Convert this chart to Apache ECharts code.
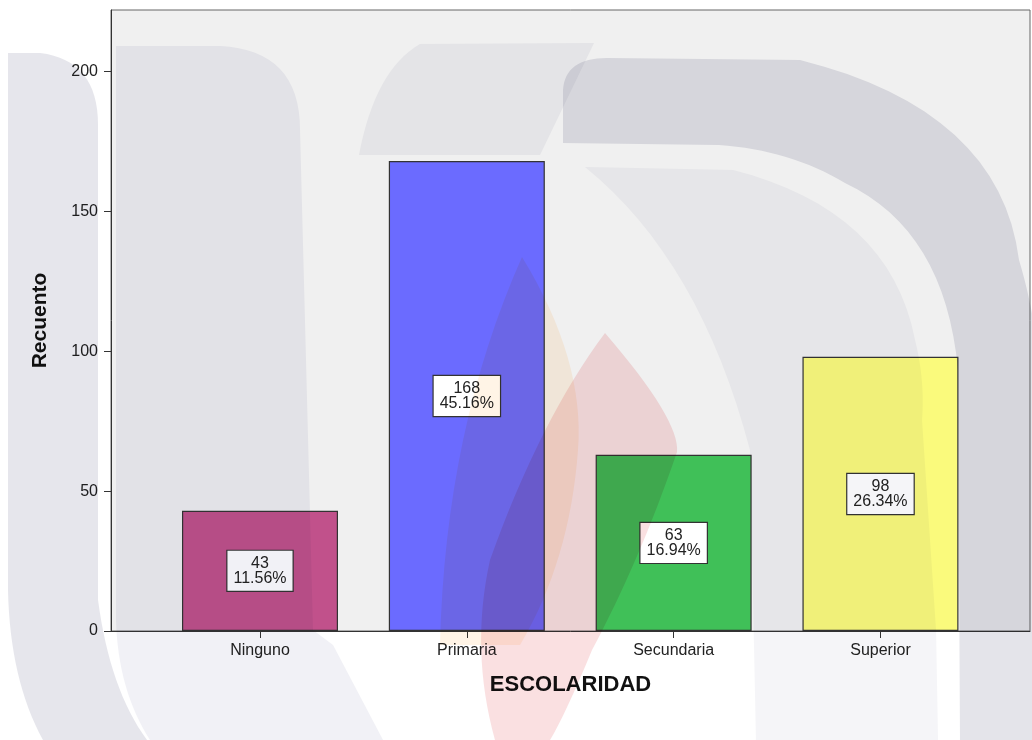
<!DOCTYPE html>
<html>
<head>
<meta charset="utf-8">
<script src="https://cdn.jsdelivr.net/npm/echarts@6/dist/echarts.min.js"></script>
<style>
html,body{margin:0;padding:0;background:#ffffff;}
#chart{width:1032px;height:740px;}
</style>
</head>
<body>
<div id="chart"></div>
<script>
// ---- data ----
const categories = ['Ninguno', 'Primaria', 'Secundaria', 'Superior'];
const counts = [43, 168, 63, 98];
const percents = ['11.56%', '45.16%', '16.94%', '26.34%'];
const barColors = ['#c1518b', '#6b6bff', '#40c058', '#fafa7c'];
const yTicks = [0, 50, 100, 150, 200];
const catPositions = [0, 1, 2, 3];

const chart = echarts.init(document.getElementById('chart'), null, {renderer: 'canvas'});
const FONT = '"Liberation Sans", Arial, sans-serif';

// plot area in pixels (layout only)
const G = {left: 111, top: 10, right: 2, bottom: 109};
const PX = G.left, PY = G.top, PW = 1032 - G.left - G.right, PH = 740 - G.top - G.bottom;

// decorative watermark outline helper: segments of [x,y] or ['Q', cx, cy, x, y]
function outline(segs) {
  const pts = [];
  let cur = null;
  segs.forEach(s => {
    if (s[0] === 'Q') {
      const [, cx, cy, x, y] = s;
      for (let t = 1; t <= 16; t++) {
        const u = t / 16;
        pts.push([(1 - u) * (1 - u) * cur[0] + 2 * (1 - u) * u * cx + u * u * x,
                  (1 - u) * (1 - u) * cur[1] + 2 * (1 - u) * u * cy + u * u * y]);
      }
      cur = [x, y];
    } else {
      pts.push([s[0], s[1]]);
      cur = s;
    }
  });
  return pts;
}
function wm(segs, fill) {
  return {type: 'polygon', z: 20, silent: true, shape: {points: outline(segs)}, style: {fill: fill, blend: 'multiply'}};
}

const seriesData = categories.map((c, i) => ({
  value: [catPositions[i], counts[i]],
  itemStyle: {color: barColors[i]}
}));

const option = {
  animation: false,
  backgroundColor: '#ffffff',
  grid: {left: G.left, top: G.top, right: G.right, bottom: G.bottom, show: false},
  graphic: {
    elements: [
      {type: 'rect', z: 0, silent: true, shape: {x: PX, y: PY, width: PW, height: PH}, style: {fill: '#f0f0f0', stroke: '#666666', lineWidth: 1}},
      // watermark (decorative)
      wm([[8, 590], [8, 53], [40, 53], ['Q', 98, 60, 98, 125], [98, 600], ['Q', 110, 690, 147, 740], [43, 740], ['Q', 10, 680, 8, 590]], 'rgb(230,230,236)'),
      wm([[116, 620], [116, 46], [220, 46], ['Q', 300, 50, 300, 130], [313, 630], [333, 645], [383, 740], [150, 740], ['Q', 118, 690, 116, 620]], 'rgb(241,241,246)'),
      wm([[359, 155], ['Q', 375, 70, 420, 44], [594, 43], [540, 155]], 'rgb(243,243,246)'),
      wm([[563, 143], [563, 90], ['Q', 565, 58, 607, 58], [800, 60], ['Q', 1000, 110, 1019, 260], ['Q', 1040, 330, 1040, 400], [1040, 740], [960, 740], [958, 370], ['Q', 945, 230, 845, 183], ['Q', 790, 150, 719, 145]], 'rgb(228,228,234)'),
      wm([[585, 167], [733, 170], ['Q', 890, 210, 915, 340], ['Q', 925, 380, 922, 420], [936, 630], [938, 740], [756, 740], [750, 450], ['Q', 700, 260, 585, 167]], 'rgb(245,245,248)'),
      wm([[522, 257], ['Q', 585, 360, 578, 450], ['Q', 570, 560, 520, 645], [440, 645], ['Q', 445, 430, 522, 257]], 'rgb(255,244,230)'),
      wm([[605, 333], ['Q', 680, 420, 677, 452], ['Q', 640, 560, 592, 650], ['Q', 565, 715, 550, 740], [495, 740], ['Q', 470, 650, 490, 560], ['Q', 540, 420, 605, 333]], 'rgb(250,224,225)')
    ]
  },
  xAxis: {
    type: 'value',
    min: -0.7204,
    max: 3.723,
    z: 5,
    splitLine: {show: false},
    axisLine: {show: true, onZero: false, lineStyle: {color: '#333333', width: 1}},
    axisTick: {show: true, length: 7, customValues: catPositions, lineStyle: {color: '#333333'}},
    axisLabel: {
      show: true, customValues: catPositions, margin: 12,
      fontFamily: FONT, fontSize: 16, color: '#222222',
      formatter: v => categories[Math.round(v)]
    },
    name: 'ESCOLARIDAD',
    nameLocation: 'middle',
    nameGap: 43,
    nameTextStyle: {fontFamily: FONT, fontSize: 22, fontWeight: 'bold', color: '#111111'}
  },
  yAxis: {
    type: 'value',
    min: 0,
    max: 222,
    interval: 50,
    z: 5,
    splitLine: {show: false},
    axisLine: {show: true, onZero: false, lineStyle: {color: '#333333', width: 1}},
    axisTick: {show: true, length: 7, customValues: yTicks, lineStyle: {color: '#333333'}},
    axisLabel: {
      show: true, customValues: yTicks, margin: 13,
      fontFamily: FONT, fontSize: 16, color: '#222222'
    },
    name: 'Recuento',
    nameLocation: 'middle',
    nameGap: 60,
    nameRotate: 90,
    nameTextStyle: {fontFamily: FONT, fontSize: 21, fontWeight: 'bold', color: '#111111'}
  },
  series: [{
    type: 'bar',
    z: 3,
    barWidth: 156,
    data: seriesData,
    itemStyle: {borderColor: '#333333', borderWidth: 1.2},
    label: {
      show: true,
      position: 'inside',
      formatter: p => counts[p.dataIndex] + '\n' + percents[p.dataIndex],
      fontFamily: FONT,
      fontSize: 16,
      lineHeight: 15,
      color: '#222222',
      backgroundColor: '#ffffff',
      borderColor: '#333333',
      borderWidth: 1.2,
      padding: [5, 6, 5, 6],
      align: 'center'
    }
  }]
};
chart.setOption(option);
</script>
</body>
</html>
